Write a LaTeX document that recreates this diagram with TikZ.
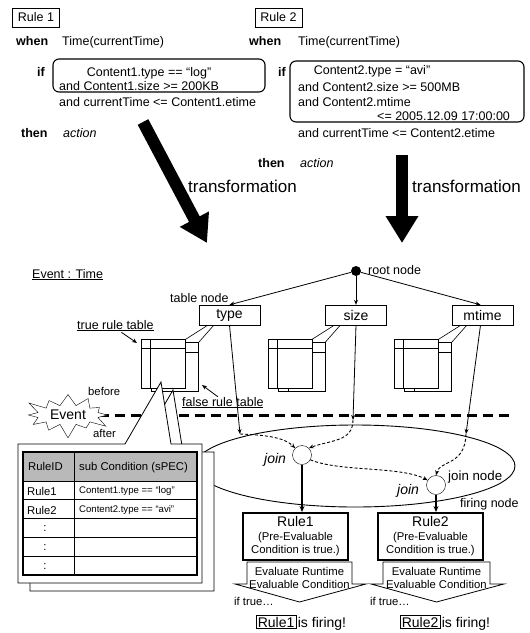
\documentclass[tikz,border=0pt]{standalone}
\usepackage{fontspec}
\setmainfont{Liberation Sans}
\usetikzlibrary{arrows.meta,shapes.symbols,calc,positioning}

\newcommand{\fmain}{\fontsize{12.5}{15}\selectfont}
\newcommand{\fbig}{\fontsize{17}{20}\selectfont}
\newcommand{\flbl}{\fontsize{14}{16}\selectfont}
\newcommand{\fsmall}{\fontsize{11.3}{13.5}\selectfont}
\newcommand{\ftiny}{\fontsize{9.6}{11}\selectfont}

\tikzset{
  txt/.style={inner sep=0pt, anchor=base west, font=\fmain},
  kw/.style={txt, font=\fmain\bfseries},
  itx/.style={txt, font=\fmain\itshape},
  big/.style={txt, font=\fbig},
  small/.style={txt, font=\fsmall},
  tiny/.style={txt, font=\ftiny},
  tag/.style={draw, inner sep=0pt, minimum width=47, minimum height=19, font=\fmain},
  cond/.style={rounded corners=6, line width=1.1},
  bigarrow/.style={line width=12, -{Triangle[length=27pt,width=31pt]}},
  tbl/.style={draw, inner sep=0pt, minimum width=61, minimum height=20, font=\flbl},
  conn/.style={-{Stealth[length=5pt,width=4pt]}, line width=0.8},
  dconn/.style={conn, line width=0.9, dash pattern=on 3pt off 2pt},
  fconn/.style={-{Stealth[length=6pt,width=5pt]}, line width=2},
  dline/.style={line width=3, dash pattern=on 10pt off 6pt},
  jn/.style={circle, draw, fill=white, inner sep=0pt, minimum size=19},
  fire/.style={draw, line width=2, minimum width=105, minimum height=47, inner sep=0pt,
    align=center, font=\fsmall},
  panel/.style={draw, fill=white, line width=0.8},
}

\begin{document}
\begin{tikzpicture}[x=1pt,y=-1pt]
\useasboundingbox (0,0) rectangle (530,633);

% Rule 1
\node[tag] (rone) at (36,17.5) {Rule 1};
\node[kw] (wone) at (16,45) {when};
\node[txt] (tone) at (62,45) {Time(currentTime)};
\node[kw] (ione) at (37,76) {if};
\draw[cond] (53,59) rectangle (265,92);
\node[txt, anchor=base] (cAa) at (149,76) {Content1.type == “log”};
\node[txt] (cAb) at (59,90) {and Content1.size >= 200KB};
\node[txt] (cAc) at (59,106) {and currentTime <= Content1.etime};
\node[kw] (hone) at (21,137) {then};
\node[itx] (aone) at (63,137) {action};

% Rule 2
\node[tag] (rtwo) at (278.5,17.5) {Rule 2};
\node[kw] (wtwo) at (249,45) {when};
\node[txt] (ttwo) at (298,45) {Time(currentTime)};
\node[kw] (itwo) at (278,76) {if};
\draw[cond] (290,61) rectangle (524,122);
\node[txt, anchor=base] (cBa) at (372,74) {Content2.type = “avi”};
\node[txt] (cBb) at (298,91) {and Content2.size >= 500MB};
\node[txt] (cBc) at (298,106) {and Content2.mtime};
\node[txt] (cBd) at (377,120) {<= 2005.12.09 17:00:00};
\node[txt] (cBe) at (298,137) {and currentTime <= Content2.etime};
\node[kw] (htwo) at (258,167) {then};
\node[itx] (atwo) at (300,167) {action};

% transformation
\coordinate (bAs) at (143,122);
\coordinate (bAe) at (207,243);
\coordinate (bBs) at (402,155);
\coordinate (bBe) at (402,243);
\draw[bigarrow] (bAs) -- (bAe);
\draw[bigarrow] (bBs) -- (bBe);
\node[big] (trA) at (188,192) {transformation};
\node[big] (trB) at (412,192) {transformation};

% event area
\draw[line width=0.9] (355,466) ellipse [x radius=160, y radius=41];
\node[txt] (evt) at (32,278) {\underline{Event : Time}};
\coordinate (dashE) at (510,415);
\draw[dline] (99,415) -- (dashE);
\node[starburst, draw, fill=white, inner xsep=4pt, inner ysep=2pt, starburst points=12,
  starburst point height=15pt, font=\flbl] (evn) at (68,415) {Event};
\node[small] (bef) at (88,395) {before};
\node[small] (aft) at (93,437) {after};

% root and table nodes
\node[circle, fill, inner sep=0pt, minimum size=10] (root) at (356,271) {};
\node[txt] (rootL) at (368,274) {root node};
\node[tbl] (typeN) at (229.5,315) {type};
\node[tbl] (sizeN) at (356,315) {size};
\node[tbl] (mtimeN) at (482.5,315) {mtime};
\node[txt] (tnL) at (170,302) {table node};
\draw[conn] (root) -- (typeN.north);
\draw[conn] (root) -- (sizeN.north);
\draw[conn] (root) -- ([xshift=-2pt]mtimeN.north);

% rule tables
\foreach \b in {typeN,sizeN,mtimeN}{
  \draw[line width=0.8] ($(\b.south west)+(-47,17)$) rectangle ($(\b.south west)+(0,66)$);
  \draw[line width=0.8] ($(\b.south west)+(-37,17)$) -- ($(\b.south west)+(-37,66)$);
  \draw[line width=0.8] ($(\b.south west)+(-13,27)$) -- ($(\b.south west)+(0,27)$);
  \draw[line width=0.8, fill=white] ($(\b.south west)+(-57,14)$) rectangle ($(\b.south west)+(-13,63)$);
  \draw[line width=0.8] ($(\b.south west)+(-48,14)$) -- ($(\b.south west)+(-48,63)$);
  \draw[line width=0.8] ($(\b.south west)+(-57,23)$) -- ($(\b.south west)+(-13,23)$);
  \draw[line width=0.6] ($(\b.south west)+(9,0)$) -- ($(\b.south west)+(-13,14)$);
  \draw[line width=0.6] ($(\b.south west)+(15,0)$) -- ($(\b.south west)+(0,17)$);
}
\node[txt] (trueL) at (77,329) {\underline{true rule table}};
\coordinate (trueT) at (137,343);
\draw[conn] ([xshift=6pt,yshift=-1pt]trueL.south) -- (trueT);
\node[txt] (falseL) at (182,406) {\underline{false rule table}};
\coordinate (falseT) at (202,385);
\draw[conn] ([xshift=-5pt]falseL.north) -- (falseT);

% joins
\node[jn] (joinA) at (302,455) {};
\node[jn] (joinB) at (436,485) {};
\node[itx, font=\flbl\itshape] (jAL) at (264,463) {join};
\node[itx, font=\flbl\itshape] (jBL) at (397,494) {join};
\node[txt, font=\fontsize{13.3}{15}\selectfont] (jnL) at (448,480) {join node};
\node[txt] (fnL) at (460,507) {firing node};
\coordinate (xT) at (240,434);
\coordinate (xS) at (353,420);
\coordinate (xM) at (466,434);
\draw[conn] (typeN.south) -- (xT);
\draw[conn] (sizeN.south) -- (xS);
\draw[conn] ([xshift=-2pt]mtimeN.south) -- (xM);
\draw[dconn] (xT) .. controls (268,435) and (285,438) .. (joinA.135);
\draw[dconn] (xS) .. controls (353,442) and (330,440) .. (joinA.45);
\draw[dconn] (xM) .. controls (465,466) and (440,460) .. (joinB.north);
\draw[dconn] (joinA.-30) .. controls (340,472) and (400,466) .. (joinB.150);

% firing nodes
\node[fire] (fireA) at (295.5,536.5) {{\fontsize{14}{14}\selectfont Rule1}\\(Pre-Evaluable\\Condition is true.)};
\node[fire] (fireB) at (430.5,536.5) {{\fontsize{14}{14}\selectfont Rule2}\\(Pre-Evaluable\\Condition is true.)};
\draw[fconn] (joinA.south) -- (joinA.south |- fireA.north);
\draw[fconn] (joinB.south) -- (joinB.south |- fireB.north);

\foreach \l/\r/\n in {247/352/1,383/490/2}{
  \pgfmathsetmacro{\m}{(\l+\r)/2}
  \draw[line width=0.8, fill=white] (\l,562) -- (\l,584) -- (\l-12,584) -- (\m,602)
    -- (\r+14,584) -- (\r,584) -- (\r,562) -- cycle;
  \node[small, anchor=base] (evA\n) at (\m,575) {Evaluate Runtime};
  \node[small, anchor=base] (evB\n) at (\m,588) {Evaluable Condition};
  \node[small] (ift\n) at (\l-13,605) {if true…};
}
\node[draw, line width=0.6, inner sep=1.5pt, font=\flbl, anchor=base west] (fgA) at (256,627) {Rule1};
\node[txt, font=\flbl, right=1.5pt of fgA.base east, anchor=base west] (fgAt) {is firing!};
\node[draw, line width=0.6, inner sep=1.5pt, font=\flbl, anchor=base west] (fgB) at (400,627) {Rule2};
\node[txt, font=\flbl, right=1.5pt of fgB.base east, anchor=base west] (fgBt) {is firing!};

% table callout
\draw[panel] (30,452) -- (137,452) -- (173,390) -- (183,452) -- (214,452) -- (214,591) -- (30,591) -- cycle;
\draw[panel] (18,444) -- (125,444) -- (161,382) -- (171,444) -- (202,444) -- (202,583) -- (18,583) -- cycle;
\fill[gray!55] (23,452) rectangle (197,481);
\foreach \y in {481,499,518,537,556}
  \draw[line width=0.8] (23,\y) -- (197,\y);
\draw[line width=0.8] (74,452) -- (74,575);
\draw[line width=1.8] (23,452) rectangle (197,575);
\node[small] (hdA) at (28,470) {RuleID};
\node[small] (hdB) at (79,470) {sub Condition (sPEC)};
\node[small] (rwA) at (27,495) {Rule1};
\node[tiny] (scA) at (79,493) {Content1.type == “log”};
\node[small] (rwB) at (27,514) {Rule2};
\node[tiny] (scB) at (79,512) {Content2.type == “avi”};
\foreach \y [count=\i] in {531,550,569}
  \node[small, anchor=base] (dt\i) at (45,\y) {:};
\end{tikzpicture}
\end{document}
